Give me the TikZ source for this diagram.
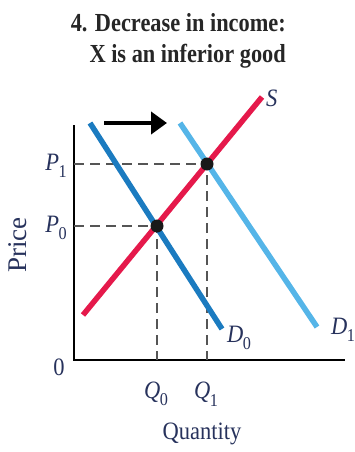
\documentclass[tikz,border=0pt]{standalone}
\usepackage{fontspec}
\setmainfont{Liberation Serif}
\newfontfamily\titlefont[FakeStretch=0.86]{Liberation Serif}
\newfontfamily\labfont[FakeStretch=0.9]{Liberation Serif}
\usetikzlibrary{arrows.meta}
\definecolor{scol}{HTML}{E5194B}
\definecolor{dzero}{HTML}{1B7BC0}
\definecolor{done}{HTML}{55B5E8}
\definecolor{txt}{HTML}{27325C}
\definecolor{dash}{HTML}{555555}
\newcommand{\lab}[2]{\textit{#1}\kern-0.5pt\raisebox{-0.3em}{\fontsize{18}{18}\selectfont #2}}
\tikzset{
  curve/.style={line width=5.5pt},
  guide/.style={draw=dash, line width=1.6pt, dash pattern=on 10pt off 6pt},
  axis/.style={line width=1.8pt, black},
  eq/.style={circle, fill=black!90, inner sep=0pt, minimum size=13pt},
  lbl/.style={text=txt, font=\labfont\fontsize{25}{25}\selectfont, inner sep=0pt},
}
\begin{document}
\begin{tikzpicture}[x=1pt,y=-1pt]
\useasboundingbox (0,0) rectangle (354,452);
% title
\node[anchor=base east, inner sep=0pt, align=right, font=\titlefont\bfseries\fontsize{26}{31}\selectfont, text=black!85] (title) at (286,63) {4. Decrease in income:\\X is an inferior good};
% axes
\coordinate (O) at (74,360);
\coordinate (ytop) at (74,125);
\coordinate (xend) at (345,360);
\draw[axis] (ytop) -- (O) -- (xend);
% curves
\coordinate (s0) at (83,315);
\coordinate (s1) at (262,97);
\coordinate (d0a) at (90,123);
\coordinate (d0b) at (222,329);
\coordinate (d1a) at (180,123);
\coordinate (d1b) at (317,327);
% guides
\coordinate (p1) at (74,164);
\coordinate (p0) at (74,226);
\coordinate (q0) at (157,360);
\coordinate (q1) at (207,360);
\coordinate (e0) at (157,226);
\coordinate (e1) at (207,164);
\draw[guide] (p1) -- (e1) -- (q1);
\draw[guide] (p0) -- (e0) -- (q0);
\draw[curve, done] (d1a) -- (d1b);
\draw[curve, dzero] (d0a) -- (d0b);
\draw[curve, scol] (s0) -- (s1);
\node[eq] (E0) at (e0) {};
\node[eq] (E1) at (e1) {};
% shift arrow
\coordinate (a0) at (104,123);
\coordinate (a1) at (167,123);
\draw[line width=4.5pt, -{Triangle[length=16pt,width=22pt]}] (a0) -- (a1);
% labels
\node[lbl, anchor=west] (Slab) at (266,98) {\textit{S}};
\node[lbl, anchor=west] (D0lab) at (227,338) {\lab{D}{0}};
\node[lbl, anchor=west] (D1lab) at (331,330) {\lab{D}{1}};
\node[lbl, anchor=east] (P1lab) at (67,166) {\lab{P}{1}};
\node[lbl, anchor=east] (P0lab) at (67,228) {\lab{P}{0}};
\node[lbl] (zero) at (59,367) {0};
\node[lbl] (Q0lab) at (156,394) {\lab{Q}{0}};
\node[lbl] (Q1lab) at (206,394) {\lab{Q}{1}};
\node[lbl] (qty) at (202,434) {Quantity};
\node[lbl, rotate=90, font=\fontsize{27}{27}\selectfont] (price) at (18,245) {Price};
\end{tikzpicture}
\end{document}
